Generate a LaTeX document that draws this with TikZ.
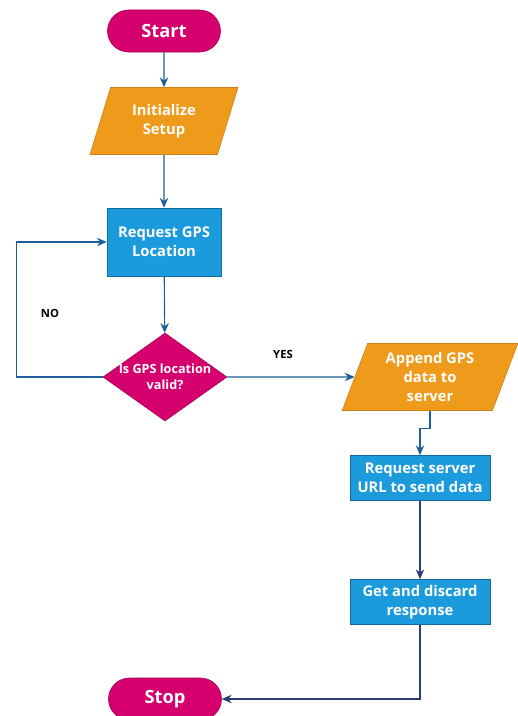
\documentclass[tikz,border=0pt]{standalone}
\usepackage{fontspec}
\setmainfont{Open Sans}
\usetikzlibrary{shapes.geometric,shapes.misc,arrows.meta}

\definecolor{flowpink}{HTML}{D5006D}
\definecolor{floworange}{HTML}{EE9A1A}
\definecolor{flowblue}{HTML}{1C9BDC}
\definecolor{flowline}{HTML}{1F5E9A}
\definecolor{flownavy}{HTML}{2B3A78}

\tikzstyle{terminal} = [rounded rectangle, fill=flowpink, draw=flowpink!75!black, text=white, font=\bfseries\fontsize{13}{15}\selectfont, minimum width=2.825cm, minimum height=1.05cm, inner sep=0pt]
\tikzstyle{io} = [trapezium, trapezium left angle=70, trapezium right angle=110, trapezium stretches=true, fill=floworange, draw=floworange!85!black, text=white, font=\bfseries\fontsize{10.5}{13.5}\selectfont, align=center, minimum height=1.675cm, inner sep=0pt]
\tikzstyle{process} = [rectangle, fill=flowblue, draw=flowblue!70!black, text=white, font=\bfseries\fontsize{10.5}{13.5}\selectfont, align=center, inner sep=0pt]
\tikzstyle{decision} = [diamond, aspect=1.4, fill=flowpink, draw=flowpink!75!black, text=white, font=\bfseries\fontsize{9}{11.5}\selectfont, align=center, minimum width=3.1cm, minimum height=2.2cm, inner sep=-8pt]
\tikzstyle{flow} = [draw=flowline, line width=0.8pt, -{Stealth[length=7pt,width=6pt]}]
\tikzstyle{tag} = [font=\bfseries\fontsize{8}{10}\selectfont, text=black]

\begin{document}
\begin{tikzpicture}[x=0.025cm, y=-0.025cm]
\useasboundingbox (0,0) rectangle (518,716);
% nodes
\node[terminal] (start) at (164,31) {Start};
\node[io, minimum width=3.7cm] (init) at (164,121) {Initialize\\Setup};
\node[process, minimum width=2.85cm, minimum height=1.7cm] (req) at (164,242) {Request GPS\\Location};
\node[decision] (valid) at (165,377) {Is GPS location\\valid?};
\node[io, minimum width=4.425cm] (append) at (430,377) {Append GPS\\data to\\server};
\node[process, minimum width=3.5cm, minimum height=1.125cm] (url) at (420,478) {Request server\\URL to send data};
\node[process, minimum width=3.5cm, minimum height=1.125cm] (discard) at (420,602) {Get and discard\\response};
\node[terminal] (stop) at (165,699) {Stop};
\node[tag] (no) at (50,313) {NO};
\node[tag] (yes) at (283,354) {YES};

% connectors
\draw[flow] (start) -- (init);
\draw[flow] (init) -- (req);
\draw[flow] (req) -- (valid);
\draw[flow] (valid.west) -- ++(-86,0) |- (req.west);
\draw[flow] (valid.east) -- (append);
\draw[flow] (append.center |- append.south) -- ++(0,18) -| (url.north);
\draw[flow, draw=flownavy] (url) -- (discard);
\draw[flow, draw=flownavy] (discard.south) |- (stop.east);
\end{tikzpicture}
\end{document}
